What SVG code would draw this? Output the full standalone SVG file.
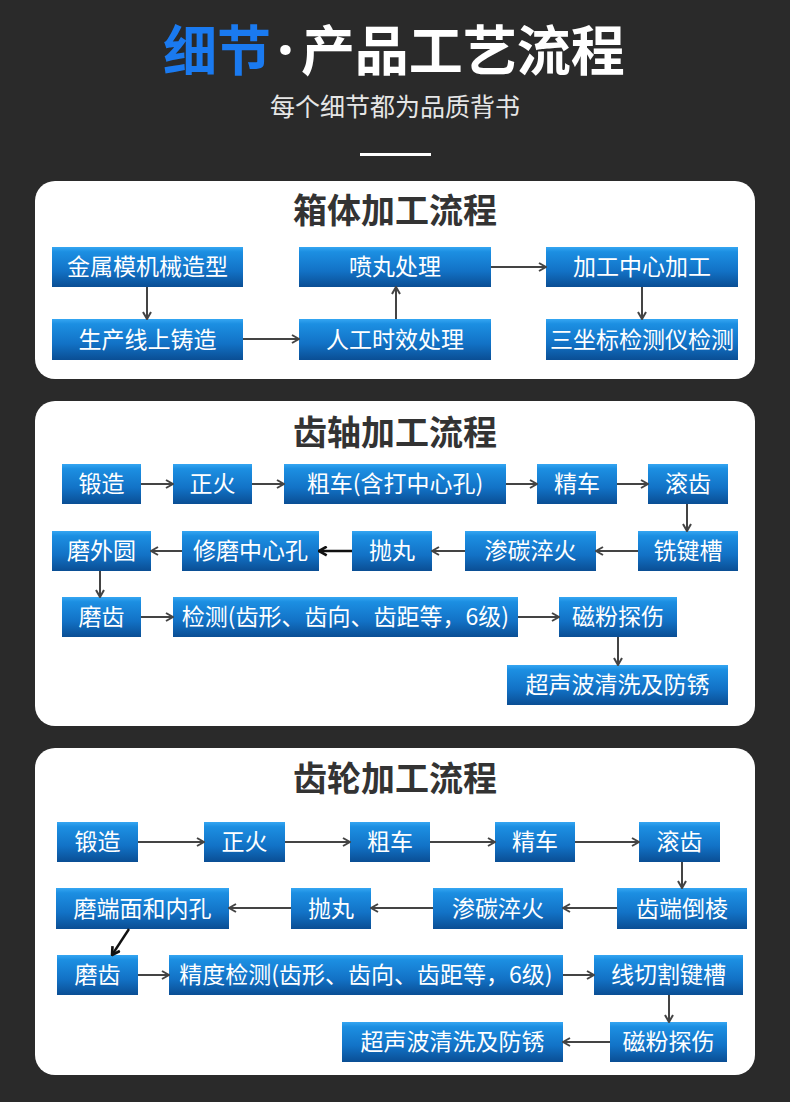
<svg xmlns="http://www.w3.org/2000/svg" width="790" height="1102" viewBox="0 0 790 1102">
<defs>
<linearGradient id="boxg" x1="0" y1="0" x2="0" y2="1">
<stop offset="0" stop-color="#35a6f2"/>
<stop offset="0.12" stop-color="#1c8fe2"/>
<stop offset="0.6" stop-color="#1272c6"/>
<stop offset="1" stop-color="#0a4e94"/>
</linearGradient>
<marker id="ah" viewBox="0 0 10 10" refX="9" refY="5" markerWidth="10" markerHeight="10" markerUnits="userSpaceOnUse" orient="auto">
<path d="M2,1 L9,5 L2,9" fill="none" stroke="#444" stroke-width="2"/>
</marker>
<marker id="ahk" viewBox="0 0 10 10" refX="9" refY="5" markerWidth="11" markerHeight="11" markerUnits="userSpaceOnUse" orient="auto">
<path d="M2,1 L9,5 L2,9" fill="none" stroke="#111" stroke-width="2.4"/>
</marker>
</defs>
<style>
.bg{fill:#2a2a2a}
.panel{fill:#ffffff}
.box{fill:url(#boxg)}
.bt{font-family:"Noto Sans CJK SC","Noto Sans",sans-serif;font-size:23px;fill:#ffffff;text-anchor:middle}
.pt{font-family:"Noto Sans CJK SC","Noto Sans",sans-serif;font-size:34px;font-weight:bold;fill:#333333;text-anchor:middle}
.ar{fill:none;stroke:#444;stroke-width:2;marker-end:url(#ah)}
.ark{fill:none;stroke:#111;stroke-width:2.4;marker-end:url(#ahk)}
.tt{font-family:"Noto Sans CJK SC","Noto Sans",sans-serif;font-size:54px;font-weight:bold}
</style>
<rect class="bg" x="0" y="0" width="790" height="1102"/>

<g id="header">
<text class="tt" x="163" y="71"><tspan fill="#1a7af0">细节</tspan><tspan fill="#ffffff" dx="6" font-family="'Noto Sans',sans-serif" font-size="60">·</tspan><tspan fill="#ffffff" dx="7">产品工艺流程</tspan></text>
<text x="395" y="116" font-family="'Noto Sans CJK SC','Noto Sans',sans-serif" font-size="25" fill="#e6e6e6" text-anchor="middle">每个细节都为品质背书</text>
<rect x="360" y="153" width="71" height="3" fill="#ffffff"/>
</g>

<g id="panel1">
<rect class="panel" x="35" y="181" width="720" height="198" rx="20"/>
<text class="pt" x="395" y="223">箱体加工流程</text>
</g>
<g id="p1n1"><rect class="box" x="52" y="247" width="191" height="40"/><text class="bt" x="147.5" y="275">金属模机械造型</text></g>
<g id="p1n2"><rect class="box" x="52" y="319" width="191" height="41"/><text class="bt" x="147.5" y="347.5">生产线上铸造</text></g>
<g id="p1n3"><rect class="box" x="299" y="319" width="192" height="41"/><text class="bt" x="395" y="347.5">人工时效处理</text></g>
<g id="p1n4"><rect class="box" x="299" y="247" width="192" height="40"/><text class="bt" x="395" y="275">喷丸处理</text></g>
<g id="p1n5"><rect class="box" x="546" y="247" width="192" height="40"/><text class="bt" x="642" y="275">加工中心加工</text></g>
<g id="p1n6"><rect class="box" x="546" y="319" width="192" height="41"/><text class="bt" x="642" y="347.5">三坐标检测仪检测</text></g>

<g id="panel2">
<rect class="panel" x="35" y="401" width="720" height="325" rx="20"/>
<text class="pt" x="395" y="445">齿轴加工流程</text>
</g>
<g id="p2n1"><rect class="box" x="62" y="464" width="79" height="40"/><text class="bt" x="101.5" y="492">锻造</text></g>
<g id="p2n2"><rect class="box" x="173" y="464" width="79" height="40"/><text class="bt" x="212.5" y="492">正火</text></g>
<g id="p2n3"><rect class="box" x="284" y="464" width="222" height="40"/><text class="bt" x="395" y="492">粗车(含打中心孔)</text></g>
<g id="p2n4"><rect class="box" x="537" y="464" width="80" height="40"/><text class="bt" x="577" y="492">精车</text></g>
<g id="p2n5"><rect class="box" x="648" y="464" width="80" height="40"/><text class="bt" x="688" y="492">滚齿</text></g>
<g id="p2n6"><rect class="box" x="638" y="531" width="100" height="40"/><text class="bt" x="688" y="559">铣键槽</text></g>
<g id="p2n7"><rect class="box" x="465" y="531" width="131" height="40"/><text class="bt" x="530.5" y="559">渗碳淬火</text></g>
<g id="p2n8"><rect class="box" x="352" y="531" width="80" height="40"/><text class="bt" x="392" y="559">抛丸</text></g>
<g id="p2n9"><rect class="box" x="182" y="531" width="137" height="40"/><text class="bt" x="250.5" y="559">修磨中心孔</text></g>
<g id="p2n10"><rect class="box" x="52" y="531" width="99" height="40"/><text class="bt" x="101.5" y="559">磨外圆</text></g>
<g id="p2n11"><rect class="box" x="62" y="597" width="79" height="40"/><text class="bt" x="101.5" y="625">磨齿</text></g>
<g id="p2n12"><rect class="box" x="173" y="597" width="345" height="40"/><text class="bt" x="345.5" y="625">检测(齿形、齿向、齿距等，6级)</text></g>
<g id="p2n13"><rect class="box" x="559" y="597" width="118" height="40"/><text class="bt" x="618" y="625">磁粉探伤</text></g>
<g id="p2n14"><rect class="box" x="507" y="665" width="221" height="40"/><text class="bt" x="617.5" y="693">超声波清洗及防锈</text></g>

<g id="panel3">
<rect class="panel" x="35" y="748" width="720" height="327" rx="20"/>
<text class="pt" x="395" y="791">齿轮加工流程</text>
</g>
<g id="p3n1"><rect class="box" x="57" y="822" width="81" height="40"/><text class="bt" x="97.5" y="850">锻造</text></g>
<g id="p3n2"><rect class="box" x="204" y="822" width="81" height="40"/><text class="bt" x="244.5" y="850">正火</text></g>
<g id="p3n3"><rect class="box" x="350" y="822" width="80" height="40"/><text class="bt" x="390" y="850">粗车</text></g>
<g id="p3n4"><rect class="box" x="495" y="822" width="80" height="40"/><text class="bt" x="535" y="850">精车</text></g>
<g id="p3n5"><rect class="box" x="639" y="822" width="81" height="40"/><text class="bt" x="679.5" y="850">滚齿</text></g>
<g id="p3n6"><rect class="box" x="617" y="888" width="130" height="41"/><text class="bt" x="682" y="916.5">齿端倒棱</text></g>
<g id="p3n7"><rect class="box" x="433" y="888" width="130" height="41"/><text class="bt" x="498" y="916.5">渗碳淬火</text></g>
<g id="p3n8"><rect class="box" x="291" y="888" width="80" height="41"/><text class="bt" x="331" y="916.5">抛丸</text></g>
<g id="p3n9"><rect class="box" x="56" y="888" width="173" height="41"/><text class="bt" x="142.5" y="916.5">磨端面和内孔</text></g>
<g id="p3n10"><rect class="box" x="57" y="955" width="81" height="40"/><text class="bt" x="97.5" y="983">磨齿</text></g>
<g id="p3n11"><rect class="box" x="169" y="955" width="394" height="40"/><text class="bt" x="366" y="983">精度检测(齿形、齿向、齿距等，6级)</text></g>
<g id="p3n12"><rect class="box" x="594" y="955" width="149" height="40"/><text class="bt" x="668.5" y="983">线切割键槽</text></g>
<g id="p3n13"><rect class="box" x="610" y="1022" width="117" height="40"/><text class="bt" x="668.5" y="1050">磁粉探伤</text></g>
<g id="p3n14"><rect class="box" x="342" y="1022" width="221" height="40"/><text class="bt" x="452.5" y="1050">超声波清洗及防锈</text></g>

<g id="connectors">
<path class="ar" d="M147,287 V319"/>
<path class="ar" d="M243,339 H299"/>
<path class="ar" d="M396,319 V287"/>
<path class="ar" d="M491,267 H546"/>
<path class="ar" d="M642,287 V319"/>

<path class="ar" d="M141,484 H173"/>
<path class="ar" d="M252,484 H284"/>
<path class="ar" d="M506,484 H537"/>
<path class="ar" d="M617,484 H648"/>
<path class="ar" d="M687,504 V531"/>
<path class="ar" d="M638,551 H596"/>
<path class="ar" d="M465,551 H432"/>
<path class="ark" d="M352,551 H319"/>
<path class="ar" d="M182,551 H151"/>
<path class="ar" d="M100,571 V597"/>
<path class="ar" d="M141,617 H173"/>
<path class="ar" d="M518,617 H559"/>
<path class="ar" d="M618,637 V665"/>

<path class="ar" d="M138,842 H204"/>
<path class="ar" d="M285,842 H350"/>
<path class="ar" d="M430,842 H495"/>
<path class="ar" d="M575,842 H639"/>
<path class="ar" d="M682,862 V888"/>
<path class="ar" d="M617,908 H563"/>
<path class="ar" d="M433,908 H371"/>
<path class="ar" d="M291,908 H229"/>
<path class="ark" d="M129,929 L112,955"/>
<path class="ar" d="M138,975 H169"/>
<path class="ar" d="M563,975 H594"/>
<path class="ar" d="M669,995 V1022"/>
<path class="ar" d="M610,1042 H563"/>
</g>
</svg>
